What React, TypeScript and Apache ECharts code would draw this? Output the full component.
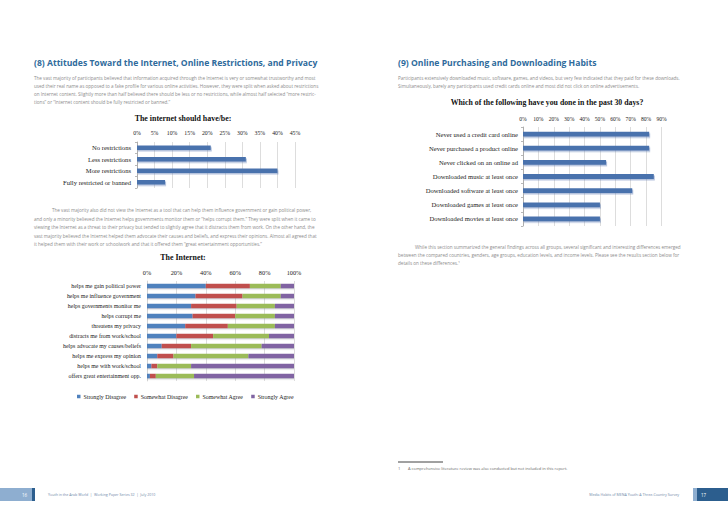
import React, { useEffect, useRef } from "react";
import * as echarts from "echarts";

// Chart 1: The internet should have/be
const restrictCats = ["No restrictions", "Less restrictions", "More restrictions", "Fully restricted or banned"];
const restrictVals = [21, 31, 40, 8];
const restrictTicks = { min: 0, max: 45, interval: 5 };

// Chart 2: The Internet (stacked)
const internetCats = [
  "helps me gain political power",
  "helps me influence government",
  "helps governments monitor me",
  "helps corrupt me",
  "threatens my privacy",
  "distracts me from work/school",
  "helps advocate my causes/beliefs",
  "helps me express my opinion",
  "helps me with work/school",
  "offers great entertainment opp.",
];
const stronglyDisagree = [40, 33, 30, 31, 26, 20, 10, 7, 3, 2];
const somewhatDisagree = [30, 32, 31, 29, 29, 25, 20, 11, 4, 4];
const somewhatAgree = [21, 26, 26, 27, 32, 38, 48, 51, 23, 26];
const stronglyAgree = [9, 9, 13, 13, 13, 17, 22, 31, 70, 68];
const agreeNames = ["Strongly Disagree", "Somewhat Disagree", "Somewhat Agree", "Strongly Agree"];

// Chart 3: past 30 days
const habitCats = [
  "Never used a credit card online",
  "Never purchased a product online",
  "Never clicked on an online ad",
  "Downloaded music at least once",
  "Downloaded software at least once",
  "Downloaded games at least once",
  "Downloaded movies at least once",
];
const habitVals = [82, 82, 54, 85, 71, 50, 50];

const SERIF = "'Liberation Serif', 'DejaVu Serif', serif";
const SANS = "'Open Sans', 'Noto Sans', sans-serif";
const BODY = "#8c8c8c";
const HEAD = "#2f6b9c";
const BAR = "#4a72ad";

const para1 = [
  "The vast majority of participants believed that information acquired through the Internet is very or somewhat trustworthy and most",
  "used their real name as opposed to a fake profile for various online activities. However, they were split when asked about restrictions",
  "on Internet content. Slightly more than half believed there should be less or no restrictions, while almost half selected \u201cmore restric-",
  "tions\u201d or \u201cInternet content should be fully restricted or banned.\u201d",
];
const para2 = [
  "The vast majority also did not view the Internet as a tool that can help them influence government or gain political power,",
  "and only a minority believed the Internet helps governments monitor them or \u201chelps corrupt them.\u201d They were split when it came to",
  "viewing the Internet as a threat to their privacy but tended to slightly agree that it distracts them from work. On the other hand, the",
  "vast majority believed the Internet helped them advocate their causes and beliefs, and express their opinions. Almost all agreed that",
  "it helped them with their work or schoolwork and that it offered them \u201cgreat entertainment opportunities.\u201d",
];
const para3 = [
  "Participants extensively downloaded music, software, games, and videos, but very few indicated that they paid for these downloads.",
  "Simultaneously, barely any participants used credit cards online and most did not click on online advertisements.",
];
const para4 = [
  "While this section summarized the general findings across all groups, several significant and interesting differences emerged",
  "between the compared countries, genders, age groups, education levels, and income levels. Please see the results section below for",
  "details on these differences.\u00b9",
];

function textEl(text: string, x: number, y: number, opts: any = {}) {
  return {
    type: "text",
    x,
    y,
    silent: true,
    style: {
      text,
      fill: opts.fill || BODY,
      fontSize: opts.fontSize || 4.6,
      fontFamily: opts.fontFamily || SANS,
      fontWeight: opts.fontWeight || "normal",
      textAlign: opts.align || "left",
      textVerticalAlign: "middle",
    },
  };
}

function paraEls(lines: string[], x: number, y: number, step: number, indent = 0) {
  return lines.map((l, i) => textEl(l, i === 0 ? x + indent : x, y + i * step));
}

const shadow = {
  shadowColor: "rgba(90,120,180,0.45)",
  shadowOffsetX: 1,
  shadowOffsetY: 1.5,
  shadowBlur: 1,
};

export default function App() {
  const ref = useRef<HTMLDivElement>(null);
  useEffect(() => {
    if (!ref.current) return;
    const chart = echarts.init(ref.current, undefined, { renderer: "svg" });
    const axisLabel = { fontSize: 5.8, fontFamily: SERIF, color: "#222" };
    const valueAxisBase = {
      type: "value",
      position: "top",
      axisLine: { show: false },
      axisTick: { show: false },
      splitLine: { lineStyle: { color: "#cfcfcf", width: 0.7 } },
    };
    const catAxisBase = {
      type: "category",
      inverse: true,
      axisLine: { show: true, lineStyle: { color: "#9a9a9a", width: 0.7 } },
      axisTick: { show: true, length: 2, lineStyle: { color: "#9a9a9a", width: 0.7 } },
    };
    const stackColors = ["#4f81bd", "#c0504d", "#9bbb59", "#8064a2"];
    const stackData = [stronglyDisagree, somewhatDisagree, somewhatAgree, stronglyAgree];

    const graphics: any[] = [
      textEl("(8) Attitudes Toward the Internet, Online Restrictions, and Privacy", 34, 63, {
        fill: HEAD, fontSize: 8.6, fontWeight: "bold",
      }),
      ...paraEls(para1, 34, 77.5, 8),
      textEl("The internet should have/be:", 183, 118, { fill: "#111", fontSize: 7.9, fontWeight: "bold", fontFamily: SERIF, align: "center" }),
      ...paraEls(para2, 34, 210, 8.5, 18),
      textEl("The Internet:", 183, 257, { fill: "#111", fontSize: 7.9, fontWeight: "bold", fontFamily: SERIF, align: "center" }),
      textEl("(9) Online Purchasing and Downloading Habits", 398, 63, {
        fill: HEAD, fontSize: 8.6, fontWeight: "bold",
      }),
      ...paraEls(para3, 398, 78, 8),
      textEl("Which of the following have you done in the past 30 days?", 547, 102, { fill: "#111", fontSize: 7.8, fontWeight: "bold", fontFamily: SERIF, align: "center" }),
      ...paraEls(para4, 398, 247, 8.2, 17),
      { type: "line", silent: true, shape: { x1: 398, y1: 462, x2: 443, y2: 462 }, style: { stroke: "#111", lineWidth: 0.8 } },
      textEl("1", 398, 468, { fontSize: 4, fill: "#666" }),
      textEl("A comprehensive literature review was also conducted but not included in this report.", 408, 468, { fontSize: 4, fill: "#666" }),
      { type: "rect", silent: true, shape: { x: 0, y: 488, width: 32, height: 13 }, style: { fill: "#8eaed0" } },
      { type: "rect", silent: true, shape: { x: 32, y: 488, width: 3, height: 13 }, style: { fill: "#2c5e8e" } },
      textEl("16", 22, 494.5, { fill: "#fff", fontSize: 4.5 }),
      textEl("Youth in the Arab World  |  Working Paper Series 32  |  July 2010", 48, 494.5, { fill: "#6f88a8", fontSize: 3.6 }),
      { type: "rect", silent: true, shape: { x: 693, y: 488, width: 4, height: 13 }, style: { fill: "#8eaed0" } },
      { type: "rect", silent: true, shape: { x: 697, y: 488, width: 31, height: 13 }, style: { fill: "#2c5e8e" } },
      textEl("17", 701, 494.5, { fill: "#fff", fontSize: 4.5 }),
      textEl("Media Habits of MENA Youth: A Three-Country Survey", 679, 494.5, { fill: "#6f88a8", fontSize: 3.6, align: "right" }),
    ];

    chart.setOption({
      animation: false,
      backgroundColor: "#ffffff",
      grid: [
        { left: 137, width: 158, top: 142, height: 46 },
        { left: 147, width: 147, top: 281, height: 100 },
        { left: 523, width: 138.5, top: 127, height: 99 },
      ],
      xAxis: [
        { ...valueAxisBase, gridIndex: 0, min: restrictTicks.min, max: restrictTicks.max, interval: restrictTicks.interval,
          axisLabel: { ...axisLabel, formatter: "{value}%", margin: 6 } },
        { ...valueAxisBase, gridIndex: 1, min: 0, max: 100, interval: 20,
          axisLabel: { ...axisLabel, fontSize: 6.3, formatter: "{value}%", margin: 6 } },
        { ...valueAxisBase, gridIndex: 2, min: 0, max: 90, interval: 10,
          axisLabel: { ...axisLabel, fontSize: 5.6, formatter: "{value}%", margin: 5 } },
      ],
      yAxis: [
        { ...catAxisBase, gridIndex: 0, data: restrictCats, axisLabel: { ...axisLabel, fontSize: 6.6, margin: 6 } },
        { ...catAxisBase, gridIndex: 1, data: internetCats, axisTick: { show: false },
          axisLine: { show: true, lineStyle: { color: "#cfcfcf", width: 0.7 } },
          axisLabel: { ...axisLabel, fontSize: 5.9, margin: 6 } },
        { ...catAxisBase, gridIndex: 2, data: habitCats, axisLabel: { ...axisLabel, fontSize: 6.6, margin: 5 } },
      ],
      legend: {
        data: agreeNames,
        left: 72,
        top: 388.5,
        itemWidth: 3.5,
        itemHeight: 3.5,
        itemGap: 8,
        icon: "rect",
        textStyle: { fontSize: 5.9, fontFamily: SERIF, color: "#222", padding: [0, 0, 0, -2] },
      },
      series: [
        {
          type: "bar", xAxisIndex: 0, yAxisIndex: 0, data: restrictVals, barWidth: 4.5,
          itemStyle: { color: BAR, ...shadow },
        },
        ...agreeNames.map((name, i) => ({
          type: "bar", name, stack: "agree", xAxisIndex: 1, yAxisIndex: 1, data: stackData[i], barWidth: 4.5,
          itemStyle: { color: stackColors[i], shadowColor: "rgba(120,120,140,0.35)", shadowOffsetY: 1.2, shadowBlur: 1 },
        })),
        {
          type: "bar", xAxisIndex: 2, yAxisIndex: 2, data: habitVals, barWidth: 4.8,
          itemStyle: { color: BAR, ...shadow },
        },
      ],
      graphic: graphics,
    });
    return () => chart.dispose();
  }, []);
  return (
    <div
      ref={ref}
      style={{ position: "absolute", left: 0, top: 0, width: 728, height: 515, background: "#fff" }}
    />
  );
}
